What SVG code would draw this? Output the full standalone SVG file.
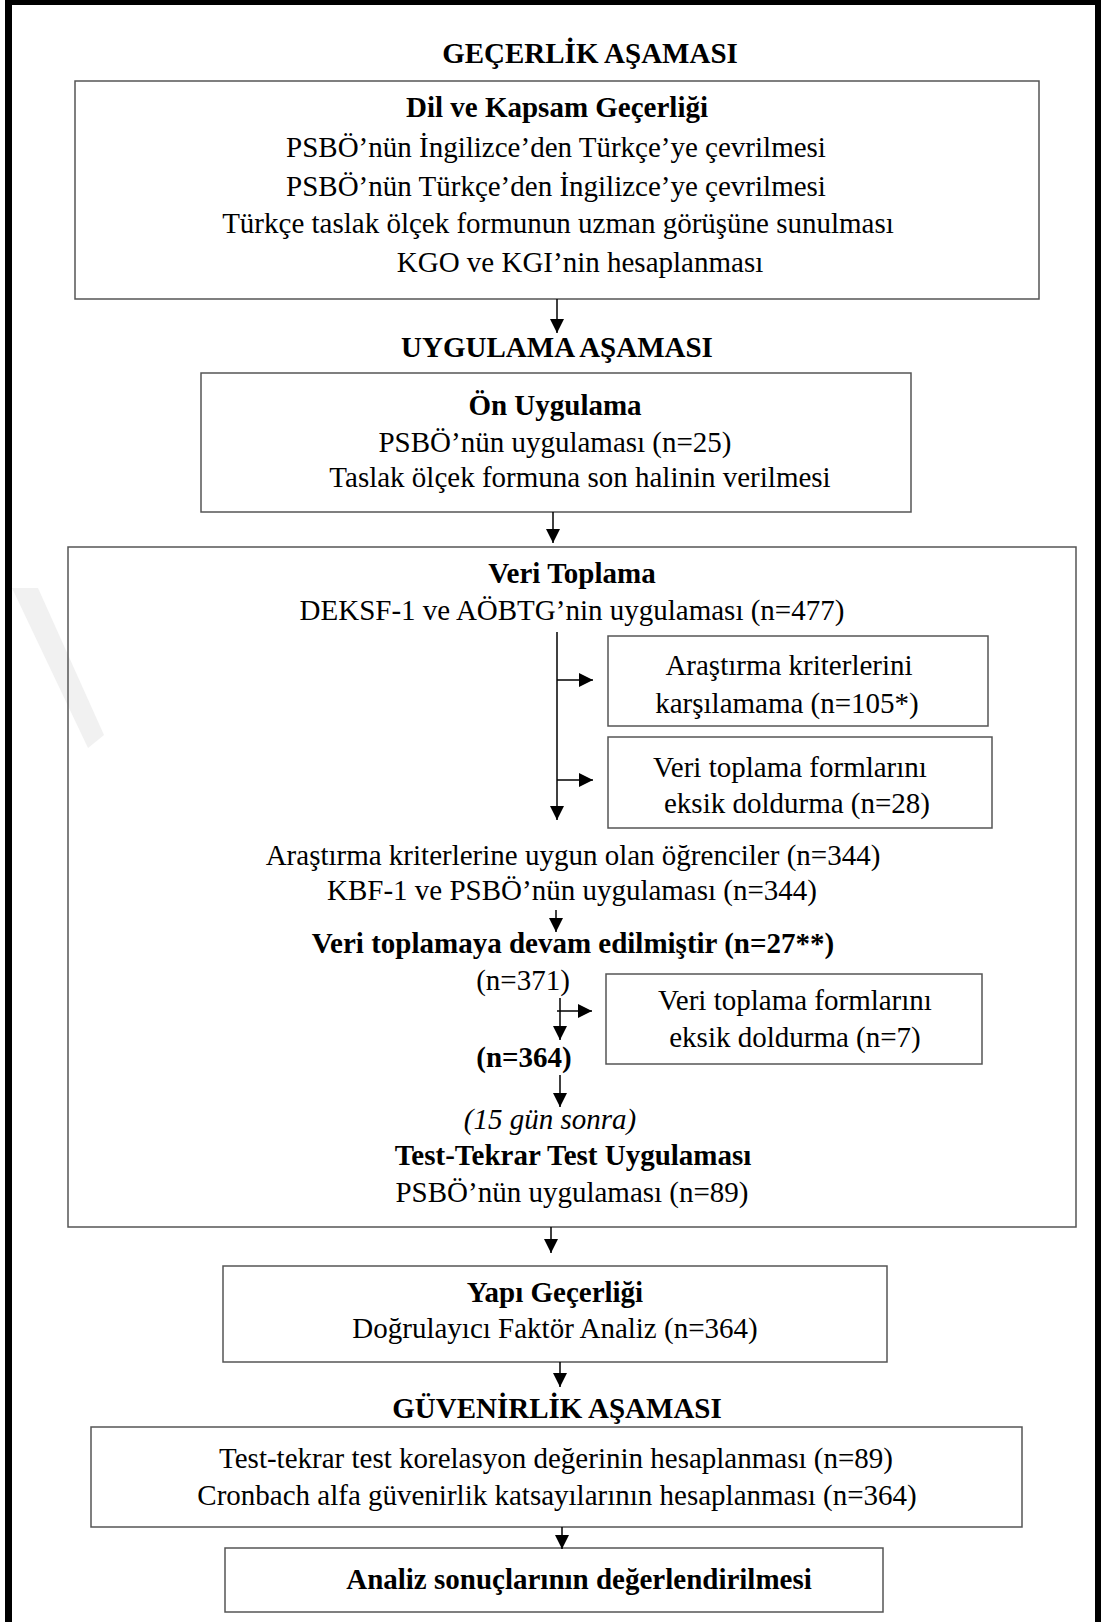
<svg xmlns="http://www.w3.org/2000/svg" width="1101" height="1622" viewBox="0 0 1101 1622">
<defs>
<marker id="ah" markerUnits="userSpaceOnUse" markerWidth="14" markerHeight="14" refX="14" refY="7" orient="auto">
<path d="M0,0 L14,7 L0,14 z" fill="#000"/>
</marker>
<style>
.box{fill:none;stroke:#555;stroke-width:1.5}
.t{font-family:"Liberation Serif","Times New Roman",serif;font-size:29px;fill:#000;text-anchor:middle}
.b{font-weight:bold}
.i{font-style:italic}
.c{stroke:#000;stroke-width:1.5;fill:none;marker-end:url(#ah)}
</style>
</defs>
<rect x="0" y="0" width="1101" height="1622" fill="#fff"/>
<polygon points="12,588 38,588 104,735 88,748" fill="#f1f1f1"/>
<g id="frame">
<rect x="5" y="0" width="7" height="1622" fill="#000"/>
<rect x="5" y="0" width="1096" height="5" fill="#000"/>
<rect x="1095" y="0" width="6" height="1622" fill="#000"/>
</g>

<g id="title-gecerlik"><text class="t b" x="590" y="63">GEÇERLİK AŞAMASI</text></g>

<g id="node-dil">
<rect class="box" x="75" y="81" width="964" height="218"/>
<text class="t b" x="557" y="117">Dil ve Kapsam Geçerliği</text>
<text class="t" x="556" y="157">PSBÖ’nün İngilizce’den Türkçe’ye çevrilmesi</text>
<text class="t" x="556" y="196">PSBÖ’nün Türkçe’den İngilizce’ye çevrilmesi</text>
<text class="t" x="558" y="233">Türkçe taslak ölçek formunun uzman görüşüne sunulması</text>
<text class="t" x="580" y="272">KGO ve KGI’nin hesaplanması</text>
</g>

<g id="title-uygulama"><text class="t b" x="557" y="357">UYGULAMA AŞAMASI</text></g>

<g id="node-on-uygulama">
<rect class="box" x="201" y="373" width="710" height="139"/>
<text class="t b" x="555" y="415">Ön Uygulama</text>
<text class="t" x="555" y="452">PSBÖ’nün uygulaması (n=25)</text>
<text class="t" x="580" y="487">Taslak ölçek formuna son halinin verilmesi</text>
</g>

<g id="node-veri-toplama">
<rect class="box" x="68" y="547" width="1008" height="680"/>
<text class="t b" x="572" y="583">Veri Toplama</text>
<text class="t" x="572" y="620">DEKSF-1 ve AÖBTG’nin uygulaması (n=477)</text>
<text class="t" x="573" y="865">Araştırma kriterlerine uygun olan öğrenciler (n=344)</text>
<text class="t" x="572" y="900">KBF-1 ve PSBÖ’nün uygulaması (n=344)</text>
<text class="t b" x="573" y="953">Veri toplamaya devam edilmiştir (n=27**)</text>
<text class="t" x="523" y="990">(n=371)</text>
<text class="t b" x="524" y="1067">(n=364)</text>
<text class="t i" x="550" y="1129">(15 gün sonra)</text>
<text class="t b" x="573" y="1165">Test-Tekrar Test Uygulaması</text>
<text class="t" x="572" y="1202">PSBÖ’nün uygulaması (n=89)</text>
</g>

<g id="node-kriter">
<rect class="box" x="608" y="636" width="380" height="90"/>
<text class="t" x="789" y="675">Araştırma kriterlerini</text>
<text class="t" x="787" y="713">karşılamama (n=105*)</text>
</g>

<g id="node-eksik-28">
<rect class="box" x="608" y="737" width="384" height="91"/>
<text class="t" x="790" y="777">Veri toplama formlarını</text>
<text class="t" x="797" y="813">eksik doldurma (n=28)</text>
</g>

<g id="node-eksik-7">
<rect class="box" x="606" y="974" width="376" height="90"/>
<text class="t" x="795" y="1010">Veri toplama formlarını</text>
<text class="t" x="795" y="1047">eksik doldurma (n=7)</text>
</g>

<g id="node-yapi">
<rect class="box" x="223" y="1266" width="664" height="96"/>
<text class="t b" x="555" y="1302">Yapı Geçerliği</text>
<text class="t" x="555" y="1338">Doğrulayıcı Faktör Analiz (n=364)</text>
</g>

<g id="title-guvenirlik"><text class="t b" x="557" y="1418">GÜVENİRLİK AŞAMASI</text></g>

<g id="node-guvenirlik">
<rect class="box" x="91" y="1427" width="931" height="100"/>
<text class="t" x="556" y="1468">Test-tekrar test korelasyon değerinin hesaplanması (n=89)</text>
<text class="t" x="557" y="1505">Cronbach alfa güvenirlik katsayılarının hesaplanması (n=364)</text>
</g>

<g id="node-analiz">
<rect class="box" x="225" y="1548" width="658" height="64"/>
<text class="t b" x="579" y="1589">Analiz sonuçlarının değerlendirilmesi</text>
</g>

<g id="connectors">
<line class="c" x1="557" y1="299" x2="557" y2="333"/>
<line class="c" x1="553" y1="512" x2="553" y2="543"/>
<line class="c" x1="557" y1="632" x2="557" y2="820"/>
<line class="c" x1="557" y1="680" x2="593" y2="680"/>
<line class="c" x1="557" y1="780" x2="593" y2="780"/>
<line class="c" x1="556" y1="910" x2="556" y2="932"/>
<line class="c" x1="560" y1="998" x2="560" y2="1040"/>
<line class="c" x1="557" y1="1011" x2="592" y2="1011"/>
<line class="c" x1="560" y1="1075" x2="560" y2="1107"/>
<line class="c" x1="551" y1="1227" x2="551" y2="1253"/>
<line class="c" x1="560" y1="1362" x2="560" y2="1387"/>
<line class="c" x1="562" y1="1527" x2="562" y2="1549"/>
</g>
</svg>
